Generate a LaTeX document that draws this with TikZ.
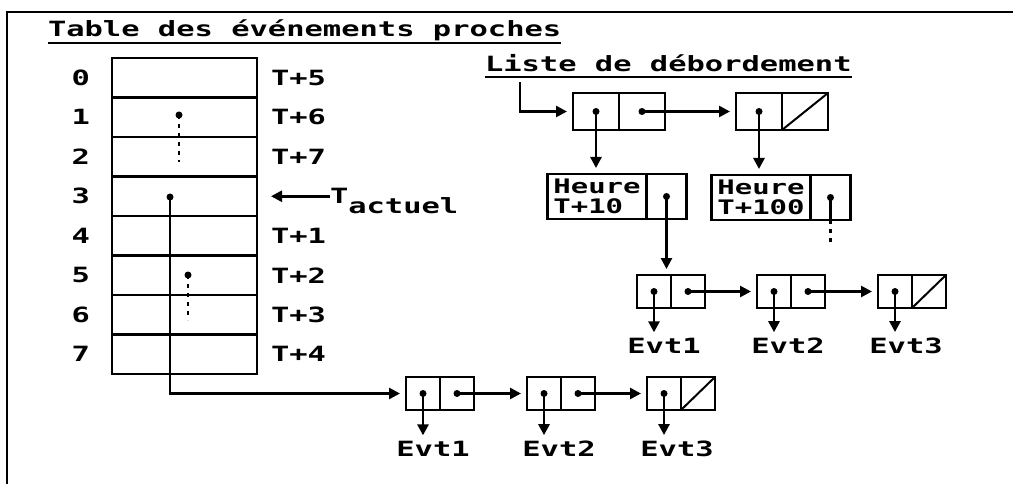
\documentclass[tikz,border=0pt]{standalone}
\usepackage{fontspec}
\usepackage{tikz}
\usetikzlibrary{arrows.meta, positioning}
\newfontfamily\dotfont[FakeStretch=1.45]{DejaVu Sans Mono}

\begin{document}
\begin{tikzpicture}[x=1pt,y=-1pt,
  every node/.style={font=\dotfont\bfseries\fontsize{21}{18}\selectfont, inner sep=0pt, outer sep=0pt},
  slot/.style={draw, line width=2.6pt, minimum width=145pt, minimum height=39.5pt},
  ovcell/.style={draw, line width=2.6pt, minimum width=46pt, minimum height=37pt},
  evcell/.style={draw, line width=2.6pt, minimum width=34pt, minimum height=33pt},
  hcell/.style={draw, line width=2.6pt, minimum width=99pt, minimum height=45pt, align=left,
    font=\dotfont\bfseries\fontsize{20}{20.5}\selectfont},
  hptr/.style={draw, line width=2.6pt, minimum width=40pt, minimum height=45pt},
  ptr/.style={line width=2.6pt, -{Triangle[length=11pt,width=11pt]}, shorten >=6pt},
  dotline/.style={line width=2.6pt, dash pattern=on 4pt off 5pt}]
\useasboundingbox (0,0) rectangle (1013,484);
\draw[line width=2.6pt] (7,484) -- (7,12) -- (1013,12);

% table of near events
\node[anchor=base west] (title) at (48,37) {Table des événements proches};
\draw[line width=2.6pt] ([yshift=-6pt]title.base west) -- ([yshift=-6pt]title.base east);

\node[slot] (row0) at (184.5,77.75) {};
\node[slot, below=0pt of row0] (row1) {};
\node[slot, below=0pt of row1] (row2) {};
\node[slot, below=0pt of row2] (row3) {};
\node[slot, below=0pt of row3] (row4) {};
\node[slot, below=0pt of row4] (row5) {};
\node[slot, below=0pt of row5] (row6) {};
\node[slot, below=0pt of row6] (row7) {};

\node[left=22pt of row0] (n0) {0};
\node[left=22pt of row1] (n1) {1};
\node[left=22pt of row2] (n2) {2};
\node[left=22pt of row3] (n3) {3};
\node[left=22pt of row4] (n4) {4};
\node[left=22pt of row5] (n5) {5};
\node[left=22pt of row6] (n6) {6};
\node[left=22pt of row7] (n7) {7};

\node[right=14pt of row0] (t0) {T+5};
\node[right=14pt of row1] (t1) {T+6};
\node[right=14pt of row2] (t2) {T+7};
\node[right=14pt of row4] (t4) {T+1};
\node[right=14pt of row5] (t5) {T+2};
\node[right=14pt of row6] (t6) {T+3};
\node[right=14pt of row7] (t7) {T+4};

\node[anchor=base west] (tact) at (330,204) {T\raisebox{-10pt}{actuel}};
\draw[ptr, shorten >=14pt] (tact.west |- row3.east) -- (row3.east);

\coordinate (p1) at (179,115);
\coordinate (p1end) at (179,162);
\coordinate (p3) at (170,197);
\coordinate (p5) at (188,275);
\coordinate (p5end) at (188,320);
\fill (p1) circle (3.5);
\fill (p3) circle (3.5);
\fill (p5) circle (3.5);
\draw[dotline] (p1) -- (p1end);
\draw[dotline] (p5) -- (p5end);

% overflow list
\node[anchor=base west] (liste) at (485,72) {Liste de débordement};
\draw[line width=2.6pt] ([yshift=-5pt]liste.base west) -- ([yshift=-5pt]liste.base east);
\coordinate (lstart) at (520,82);

\node[ovcell] (o1a) at (596,111.5) {};
\node[ovcell, right=0pt of o1a] (o1b) {};
\node[ovcell] (o2a) at (759,111.5) {};
\node[ovcell, right=0pt of o2a] (o2b) {};
\draw[line width=2pt] (o2b.south west) -- (o2b.north east);

\node[hcell] (h1a) at (597,196.5) {Heure\\T+10};
\node[hptr, right=0pt of h1a] (h1b) {};
\node[hcell] (h2a) at (761,197.5) {Heure\\T+100};
\node[hptr, right=0pt of h2a] (h2b) {};

\draw[ptr] (lstart) |- (o1a);
\fill (o1a.center) circle (3.5);
\fill (o1b.center) circle (3.5);
\fill (o2a.center) circle (3.5);
\draw[ptr] (o1b.center) -- (o2a);
\draw[ptr] (o1a.center) -- (o1a.center |- h1a.north);
\draw[ptr] (o2a.center) -- (o2a.center |- h2a.north);

\fill (h1b.center) circle (3.5);
\fill (h2b.center) circle (3.5);
\draw[line width=2.6pt] (h2b.center) -- (h2b.south);
\draw[dotline] (h2b.south) -- ++(0,25);

% events at T+10
\node[evcell] (r1a) at (654,291.5) {};
\node[evcell, right=0pt of r1a] (r1b) {};
\node[evcell] (r2a) at (774,291.5) {};
\node[evcell, right=0pt of r2a] (r2b) {};
\node[evcell] (r3a) at (895,291.5) {};
\node[evcell, right=0pt of r3a] (r3b) {};
\draw[line width=2pt] (r3b.south west) -- (r3b.north east);

\node (re1) at (664,346) {Evt1};
\node (re2) at (788,346) {Evt2};
\node (re3) at (906,346) {Evt3};

\draw[ptr] (h1b.center) -- (h1b.center |- r1a.north);
\fill (r1a.center) circle (3.5);
\fill (r1b.center) circle (3.5);
\fill (r2a.center) circle (3.5);
\fill (r2b.center) circle (3.5);
\fill (r3a.center) circle (3.5);
\draw[ptr] (r1b.center) -- (r2a);
\draw[ptr] (r2b.center) -- (r3a);
\draw[ptr] (r1a.center) -- (r1a.center |- re1.north);
\draw[ptr] (r2a.center) -- (r2a.center |- re2.north);
\draw[ptr] (r3a.center) -- (r3a.center |- re3.north);

% events of the current slot
\node[evcell] (b1a) at (423,393.5) {};
\node[evcell, right=0pt of b1a] (b1b) {};
\node[evcell] (b2a) at (544,393.5) {};
\node[evcell, right=0pt of b2a] (b2b) {};
\node[evcell] (b3a) at (664,393.5) {};
\node[evcell, right=0pt of b3a] (b3b) {};
\draw[line width=2pt] (b3b.south west) -- (b3b.north east);

\node (be1) at (433,449) {Evt1};
\node (be2) at (559,449) {Evt2};
\node (be3) at (677,449) {Evt3};

\draw[ptr] (p3) |- (b1a);
\fill (b1a.center) circle (3.5);
\fill (b1b.center) circle (3.5);
\fill (b2a.center) circle (3.5);
\fill (b2b.center) circle (3.5);
\fill (b3a.center) circle (3.5);
\draw[ptr] (b1b.center) -- (b2a);
\draw[ptr] (b2b.center) -- (b3a);
\draw[ptr] (b1a.center) -- (b1a.center |- be1.north);
\draw[ptr] (b2a.center) -- (b2a.center |- be2.north);
\draw[ptr] (b3a.center) -- (b3a.center |- be3.north);
\end{tikzpicture}
\end{document}
